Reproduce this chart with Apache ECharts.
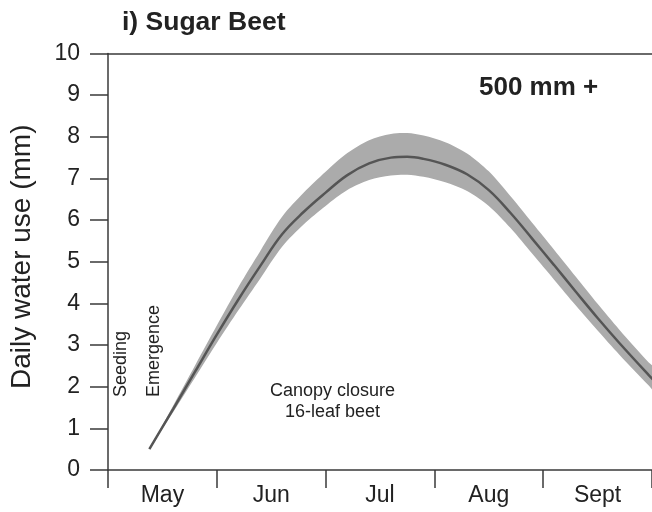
<!DOCTYPE html>
<html>
<head>
<meta charset="utf-8">
<script src="https://cdn.jsdelivr.net/npm/echarts@6/dist/echarts.min.js"></script>
<style>
  html, body { margin: 0; padding: 0; background: #fff; }
  #chart { width: 652px; height: 512px; }
</style>
</head>
<body>
<div id="chart"></div>
<script>
// months on the x axis, one category per month
const months = ['May', 'Jun', 'Jul', 'Aug', 'Sept'];
const yTicks = [0, 1, 2, 3, 4, 5, 6, 7, 8, 9, 10];

// position along the season, in months from the start of May
const monthPos = [0.38, 0.6, 0.8, 1.0, 1.2, 1.4, 1.6, 1.8, 2.0, 2.2, 2.4, 2.6, 2.75, 2.9, 3.1, 3.3, 3.5, 3.7, 3.9, 4.1, 4.3, 4.5, 4.7, 4.97, 5.03];
// daily water use (mm): middle line and the edges of the shaded range
const meanUse = [0.5, 1.47, 2.36, 3.25, 4.1, 4.9, 5.66, 6.2, 6.66, 7.08, 7.36, 7.5, 7.52, 7.47, 7.33, 7.1, 6.72, 6.17, 5.55, 4.92, 4.28, 3.65, 3.05, 2.28, 2.12];
const upperUse = [0.5, 1.55, 2.51, 3.47, 4.4, 5.26, 6.08, 6.66, 7.16, 7.61, 7.92, 8.07, 8.09, 8.03, 7.87, 7.6, 7.17, 6.57, 5.93, 5.29, 4.64, 3.99, 3.37, 2.58, 2.42];
const lowerUse = [0.5, 1.39, 2.22, 3.05, 3.84, 4.6, 5.36, 5.9, 6.34, 6.72, 6.96, 7.07, 7.09, 7.04, 6.91, 6.7, 6.34, 5.81, 5.19, 4.57, 3.95, 3.35, 2.77, 2.03, 1.87];

const font = 'Liberation Sans, Arial, sans-serif';
const ink = '#222';
const axisCol = '#3a3a3a';

const chart = echarts.init(document.getElementById('chart'));

function renderBand(params, api) {
  const top = monthPos.map((x, i) => api.coord([x, upperUse[i]]));
  const bottom = monthPos.map((x, i) => api.coord([x, lowerUse[i]])).reverse();
  return {
    type: 'polygon',
    shape: { points: top.concat(bottom), smooth: 0.3 },
    style: { fill: '#ababab', stroke: null }
  };
}

chart.setOption({
  animation: false,
  textStyle: { fontFamily: font, color: ink },
  title: {
    text: 'i) Sugar Beet',
    left: 122,
    top: 9,
    padding: 0,
    textStyle: { fontSize: 26.5, fontWeight: 'bold', color: ink, fontFamily: font }
  },
  grid: {
    left: 108,
    top: 53.5,
    bottom: 42,
    right: -3.5
  },
  xAxis: [{
    type: 'category',
    data: months,
    position: 'bottom',
    boundaryGap: true,
    axisLine: { show: true, lineStyle: { color: axisCol, width: 1.5 } },
    axisTick: { show: true, length: 18, lineStyle: { color: axisCol, width: 1.5 } },
    axisLabel: { fontSize: 23, color: ink, margin: 14, fontFamily: font },
    splitLine: { show: false }
  }, {
    type: 'value',
    min: 0,
    max: 5,
    position: 'top',
    axisLine: { show: true, onZero: false, lineStyle: { color: axisCol, width: 1.5 } },
    axisTick: { show: false },
    axisLabel: { show: false },
    splitLine: { show: false }
  }],
  yAxis: {
    type: 'value',
    min: yTicks[0],
    max: yTicks[yTicks.length - 1],
    interval: 1,
    name: 'Daily water use (mm)',
    nameLocation: 'middle',
    nameGap: 72,
    nameTextStyle: { fontSize: 28, color: ink, fontFamily: font, padding: [0, 0, 0, 10] },
    axisLine: { show: true, lineStyle: { color: axisCol, width: 1.5 } },
    axisTick: { show: true, length: 18, lineStyle: { color: axisCol, width: 1.5 } },
    axisLabel: { fontSize: 23, color: ink, margin: 28, fontFamily: font },
    splitLine: { show: false }
  },
  series: [{
    type: 'custom',
    name: 'range',
    xAxisIndex: 1,
    data: [0],
    renderItem: renderBand,
    clip: true,
    silent: true,
    z: 1
  }, {
    type: 'line',
    name: 'mean',
    xAxisIndex: 1,
    data: monthPos.map((x, i) => [x, meanUse[i]]),
    smooth: 0.4,
    symbol: 'none',
    lineStyle: { color: '#555', width: 2.5 },
    silent: true,
    z: 3
  }],
  graphic: [{
    type: 'text',
    x: 479,
    y: 75,
    style: { text: '500 mm +', font: 'bold 26px ' + font, fill: ink }
  }, {
    type: 'text',
    x: 121.5,
    y: 397,
    rotation: Math.PI / 2,
    style: { text: 'Seeding', font: '18px ' + font, fill: ink, textAlign: 'left', textVerticalAlign: 'middle' }
  }, {
    type: 'text',
    x: 154.5,
    y: 397,
    rotation: Math.PI / 2,
    style: { text: 'Emergence', font: '18px ' + font, fill: ink, textAlign: 'left', textVerticalAlign: 'middle' }
  }, {
    type: 'text',
    x: 332.5,
    y: 402,
    style: {
      text: 'Canopy closure\n16-leaf beet',
      font: '18px ' + font,
      lineHeight: 21,
      fill: ink,
      textAlign: 'center',
      textVerticalAlign: 'middle'
    }
  }]
});
</script>
</body>
</html>
